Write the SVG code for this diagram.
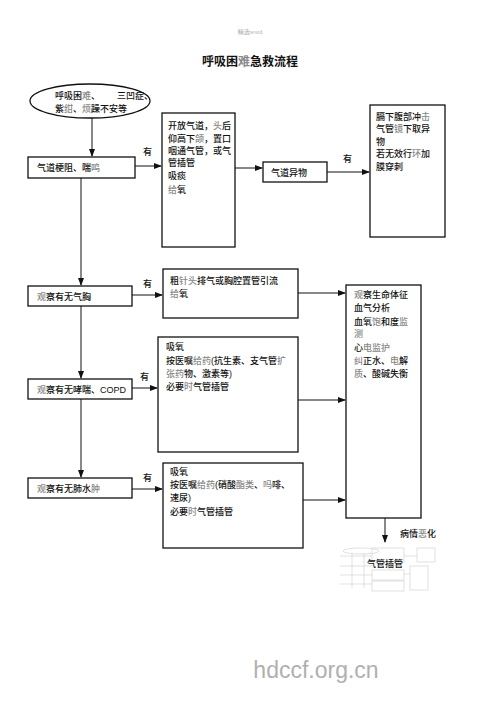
<svg xmlns="http://www.w3.org/2000/svg" width="500" height="707" viewBox="0 0 500 707">
<defs>
<marker id="ah" markerWidth="8" markerHeight="6" refX="7" refY="3" orient="auto" markerUnits="userSpaceOnUse">
<path d="M0,0 L8,3 L0,6 Z" fill="#111"/>
</marker>
<style>
.box{fill:#fff;stroke:#111;stroke-width:1.3}
.t{font-family:"Liberation Sans","Noto Sans CJK SC",sans-serif;font-size:9px;font-weight:500;fill:#111}
.g{fill:#888}
.ln{stroke:#111;stroke-width:1;fill:none}
.faint{stroke:#ccc;stroke-width:0.6;fill:none}
</style>
</defs>
<rect width="500" height="707" fill="#fff"/>
<text x="250" y="34" text-anchor="middle" style="font-family:'Liberation Serif','Noto Sans CJK SC',serif;font-size:6px;fill:#aaa">精选word</text>
<text x="250" y="66" text-anchor="middle" style="font-family:'Liberation Sans','Noto Sans CJK SC',sans-serif;font-size:12px;font-weight:bold;fill:#111">呼吸困<tspan class="g">难</tspan>急救流程</text>

<g id="start">
<ellipse cx="90" cy="101" rx="60" ry="17" class="box"/>
<text class="t" x="55" y="99">呼吸困<tspan class="g">难</tspan>、</text>
<text class="t" x="117" y="99">三凹症、</text>
<text class="t" x="55" y="112">紫<tspan class="g">绀</tspan>、<tspan class="g">烦</tspan>躁不安等</text>
</g>

<g id="n_obstruct">
<rect x="28" y="157" width="107" height="21" class="box"/>
<text class="t" x="37" y="171">气道梗阻、喘<tspan class="g">鸣</tspan></text>
</g>

<g id="n_open">
<rect x="162" y="113" width="73" height="134" class="box"/>
<text class="t" x="168" y="129">开放气道，<tspan class="g">头</tspan>后</text>
<text class="t" x="168" y="142">仰高下<tspan class="g">颌</tspan>，置口</text>
<text class="t" x="168" y="154">咽通气管，或气</text>
<text class="t" x="168" y="166">管插管</text>
<text class="t" x="168" y="179">吸痰</text>
<text class="t" x="168" y="193"><tspan class="g">给</tspan>氧</text>
</g>

<g id="n_foreign">
<rect x="263" y="162" width="64" height="20" class="box"/>
<text class="t" x="271" y="176">气道异物</text>
</g>

<g id="n_heimlich">
<rect x="370" y="105" width="75" height="132" class="box"/>
<text class="t" x="376" y="120">膈下腹部冲<tspan class="g">击</tspan></text>
<text class="t" x="376" y="132">气管<tspan class="g">镜</tspan>下取异</text>
<text class="t" x="376" y="145">物</text>
<text class="t" x="376" y="157">若无效行<tspan class="g">环</tspan>加</text>
<text class="t" x="376" y="170">膜穿刺</text>
</g>

<g id="n_pneumo">
<rect x="28" y="286" width="104" height="20" class="box"/>
<text class="t" x="37" y="300"><tspan class="g">观</tspan>察有无气胸</text>
</g>

<g id="n_needle">
<rect x="163" y="269" width="135" height="49" class="box"/>
<text class="t" x="170" y="284">粗<tspan class="g">针头</tspan>排气或胸腔置管引流</text>
<text class="t" x="170" y="297"><tspan class="g">给</tspan>氧</text>
</g>

<g id="n_copd">
<rect x="28" y="379" width="104" height="20" class="box"/>
<text class="t" x="37" y="393"><tspan class="g">观</tspan>察有无哮喘、COPD</text>
</g>

<g id="n_copd_tx">
<rect x="158" y="337" width="140" height="115" class="box"/>
<text class="t" x="166" y="350">吸氧</text>
<text class="t" x="166" y="364">按医嘱<tspan class="g">给药</tspan>(抗生素、支气管<tspan class="g">扩</tspan></text>
<text class="t" x="166" y="377"><tspan class="g">张药</tspan>物、激素等)</text>
<text class="t" x="166" y="390">必要<tspan class="g">时</tspan>气管插管</text>
</g>

<g id="n_edema">
<rect x="28" y="478" width="104" height="20" class="box"/>
<text class="t" x="37" y="492"><tspan class="g">观</tspan>察有无肺水<tspan class="g">肿</tspan></text>
</g>

<g id="n_edema_tx">
<rect x="163" y="463" width="140" height="85" class="box"/>
<text class="t" x="170" y="475">吸氧</text>
<text class="t" x="170" y="488">按医嘱<tspan class="g">给药</tspan>(硝酸<tspan class="g">酯类</tspan>、<tspan class="g">吗</tspan>啡、</text>
<text class="t" x="170" y="501">速尿)</text>
<text class="t" x="170" y="515">必要<tspan class="g">时</tspan>气管插管</text>
</g>

<g id="n_monitor">
<rect x="346" y="285" width="75" height="233" class="box"/>
<text class="t" x="354" y="298"><tspan class="g">观</tspan>察生命体征</text>
<text class="t" x="354" y="311">血气分析</text>
<text class="t" x="354" y="325">血氧<tspan class="g">饱</tspan>和度<tspan class="g">监</tspan></text>
<text class="t" x="354" y="337"><tspan class="g">测</tspan></text>
<text class="t" x="354" y="351">心<tspan class="g">电监护</tspan></text>
<text class="t" x="354" y="364"><tspan class="g">纠</tspan>正水、<tspan class="g">电</tspan>解</text>
<text class="t" x="354" y="377"><tspan class="g">质</tspan>、酸碱失衡</text>
</g>

<g id="n_intubate">
<g class="faint">
<ellipse cx="361" cy="551" rx="18" ry="3"/>
<line x1="340" y1="556" x2="372" y2="556"/>
<line x1="340" y1="566" x2="372" y2="566"/>
<line x1="340" y1="575" x2="372" y2="575"/>
<line x1="340" y1="584" x2="372" y2="584"/>
<line x1="352" y1="553" x2="352" y2="588"/>
<line x1="364" y1="553" x2="364" y2="588"/>
<rect x="372" y="548" width="32" height="14"/>
<rect x="372" y="570" width="32" height="10"/>
<rect x="372" y="581" width="32" height="10"/>
<line x1="404" y1="556" x2="417" y2="556"/>
<rect x="417" y="548" width="18" height="14"/>
<rect x="410" y="566" width="18" height="24"/>
<line x1="404" y1="574" x2="410" y2="574"/>
</g>
<text class="t" x="385" y="567" text-anchor="middle">气管插管</text>
<text class="t" x="400" y="537">病情<tspan class="g">恶</tspan>化</text>
</g>

<g id="connectors">
<line class="ln" x1="92" y1="118" x2="92" y2="156" marker-end="url(#ah)"/>
<line class="ln" x1="135" y1="166" x2="161" y2="166" marker-end="url(#ah)"/>
<text class="t" x="143" y="155">有</text>
<line class="ln" x1="235" y1="168" x2="262" y2="168" marker-end="url(#ah)"/>
<line class="ln" x1="327" y1="172" x2="369" y2="172" marker-end="url(#ah)"/>
<text class="t" x="343" y="162">有</text>
<line class="ln" x1="81" y1="178" x2="81" y2="285" marker-end="url(#ah)"/>
<line class="ln" x1="132" y1="295" x2="162" y2="295" marker-end="url(#ah)"/>
<text class="t" x="143" y="287">有</text>
<line class="ln" x1="298" y1="293" x2="345" y2="293" marker-end="url(#ah)"/>
<line class="ln" x1="81" y1="306" x2="81" y2="378" marker-end="url(#ah)"/>
<line class="ln" x1="132" y1="388" x2="157" y2="388" marker-end="url(#ah)"/>
<text class="t" x="140" y="380">有</text>
<line class="ln" x1="298" y1="400" x2="345" y2="400" marker-end="url(#ah)"/>
<line class="ln" x1="81" y1="399" x2="81" y2="477" marker-end="url(#ah)"/>
<line class="ln" x1="132" y1="489" x2="162" y2="489" marker-end="url(#ah)"/>
<text class="t" x="143" y="481">有</text>
<line class="ln" x1="303" y1="500" x2="345" y2="500" marker-end="url(#ah)"/>
<line class="ln" x1="385" y1="518" x2="385" y2="542" marker-end="url(#ah)"/>
</g>

<text x="316" y="678" text-anchor="middle" style="font-family:'Liberation Sans',Arial,sans-serif;font-size:23px;fill:#b0b0b0">hdccf.org.cn</text>
</svg>
